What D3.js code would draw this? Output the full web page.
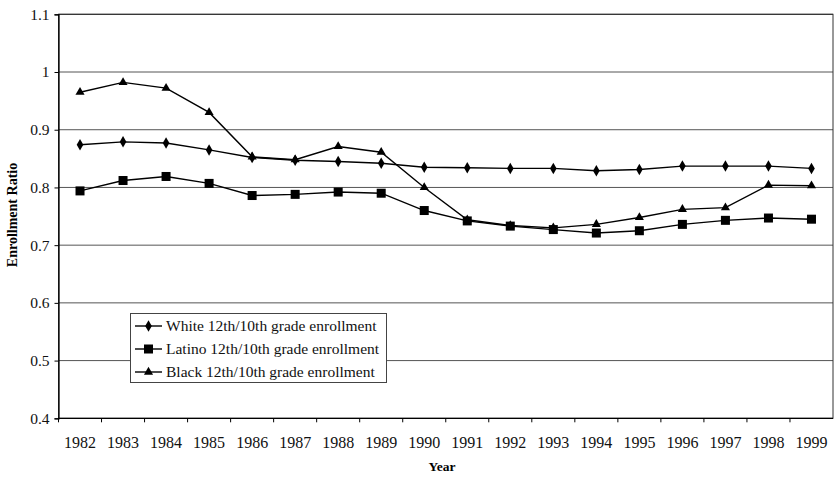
<!DOCTYPE html>
<html>
<head>
<meta charset="utf-8">
<script src="https://cdn.jsdelivr.net/npm/d3@7"></script>
<style>
  html, body { margin: 0; padding: 0; background: #fff; }
  svg { display: block; font-family: "Liberation Serif", "Times New Roman", serif; }
</style>
</head>
<body>
<svg id="chart" width="835" height="477"></svg>
<script>
const years = ["1982","1983","1984","1985","1986","1987","1988","1989","1990","1991","1992","1993","1994","1995","1996","1997","1998","1999"];
const white  = [0.874,0.879,0.877,0.865,0.852,0.847,0.845,0.842,0.835,0.834,0.833,0.833,0.829,0.831,0.837,0.837,0.837,0.833];
const latino = [0.794,0.812,0.819,0.807,0.786,0.788,0.792,0.790,0.760,0.742,0.733,0.727,0.721,0.725,0.736,0.743,0.747,0.745];
const black  = [0.965,0.982,0.972,0.930,0.853,0.848,0.871,0.861,0.800,0.744,0.734,0.730,0.736,0.748,0.762,0.765,0.804,0.803];
const yTicks = [0.4,0.5,0.6,0.7,0.8,0.9,1.0,1.1];
const seriesNames = ["White 12th/10th grade enrollment","Latino 12th/10th grade enrollment","Black 12th/10th grade enrollment"];
const seriesMarkers = ["diamond","square","triangle"];

const svg = d3.select("#chart");
const m = {left: 58.5, right: 833, top: 14.3, bottom: 418.3};

const x = d3.scaleBand().domain(years).range([m.left, m.right]).paddingInner(0).paddingOuter(0);
const y = d3.scaleLinear().domain([0.4, 1.1]).range([m.bottom, m.top]);

// gridlines
svg.append("g").selectAll("line").data(yTicks.filter(d => d > 0.4)).join("line")
  .attr("x1", m.left).attr("x2", m.right)
  .attr("y1", d => y(d)).attr("y2", d => y(d))
  .attr("stroke", d => d === 1.1 ? "#222" : "#555").attr("stroke-width", 1);

// plot border
svg.append("rect").attr("x", m.left).attr("y", m.top)
  .attr("width", m.right - m.left).attr("height", m.bottom - m.top)
  .attr("fill", "none").attr("stroke", "#333").attr("stroke-width", 1);

// Y axis
const yAxis = d3.axisLeft(y).tickValues(yTicks).tickSize(4).tickPadding(5)
  .tickFormat(d => d === 1 ? "1" : d3.format(".1f")(d));
const gy = svg.append("g").attr("transform", `translate(${m.left},0)`).call(yAxis);
gy.select(".domain").attr("stroke", "#000").attr("stroke-width", 1.3);
gy.selectAll(".tick line").attr("stroke", "#000");
gy.selectAll("text").attr("font-size", 15.5).attr("fill", "#111")
  .attr("font-family", "Liberation Serif");

// X axis with ticks at category boundaries
const gx = svg.append("g").attr("transform", `translate(0,${m.bottom})`);
gx.append("line").attr("x1", m.left).attr("x2", m.right).attr("y1", 0).attr("y2", 0)
  .attr("stroke", "#000").attr("stroke-width", 1.3);
gx.selectAll("line.tk").data(years).join("line").attr("class", "tk")
  .attr("x1", d => x(d)).attr("x2", d => x(d)).attr("y1", 0).attr("y2", 4)
  .attr("stroke", "#000");
gx.selectAll("text").data(years).join("text")
  .attr("x", d => x(d) + x.bandwidth() / 2).attr("y", 30)
  .attr("text-anchor", "middle").attr("font-size", 16).attr("fill", "#111")
  .text(d => d);

// axis titles
svg.append("text").attr("x", 442).attr("y", 471).attr("text-anchor", "middle")
  .attr("font-size", 13.5).attr("font-weight", "bold").text("Year");
svg.append("text").attr("transform", "translate(17,215) rotate(-90)")
  .attr("text-anchor", "middle").attr("font-size", 14).attr("font-weight", "bold")
  .text("Enrollment Ratio");

const cx = d => x(d) + x.bandwidth() / 2;
const line = d3.line().x((d, i) => cx(years[i])).y(d => y(d));

function drawMarker(g, type, px, py) {
  if (type === "diamond") {
    g.append("path").attr("d", d3.symbol(d3.symbolDiamond, 38)())
      .attr("transform", `translate(${px},${py})`).attr("fill", "#000");
  } else if (type === "square") {
    g.append("rect").attr("x", px - 4.5).attr("y", py - 4.5).attr("width", 9).attr("height", 9)
      .attr("fill", "#000");
  } else {
    g.append("path").attr("d", d3.symbol(d3.symbolTriangle, 36)())
      .attr("transform", `translate(${px},${py})`).attr("fill", "#000");
  }
}

const allSeries = [white, latino, black];
allSeries.forEach((vals, si) => {
  const g = svg.append("g");
  g.append("path").datum(vals).attr("d", line)
    .attr("fill", "none").attr("stroke", "#000").attr("stroke-width", 1.4);
  vals.forEach((v, i) => drawMarker(g, seriesMarkers[si], cx(years[i]), y(v)));
});

// legend
const lg = svg.append("g");
lg.append("rect").attr("x", 130.5).attr("y", 313.5).attr("width", 256).attr("height", 69)
  .attr("fill", "#fff").attr("stroke", "#444").attr("stroke-width", 1);
seriesNames.forEach((name, i) => {
  const ly = 326 + i * 23;
  lg.append("line").attr("x1", 135).attr("x2", 162).attr("y1", ly).attr("y2", ly)
    .attr("stroke", "#000").attr("stroke-width", 1.4);
  drawMarker(lg, seriesMarkers[i], 148.5, ly);
  lg.append("text").attr("x", 166).attr("y", ly + 5).attr("font-size", 15.5).attr("fill", "#111")
    .text(name);
});
</script>
</body>
</html>
